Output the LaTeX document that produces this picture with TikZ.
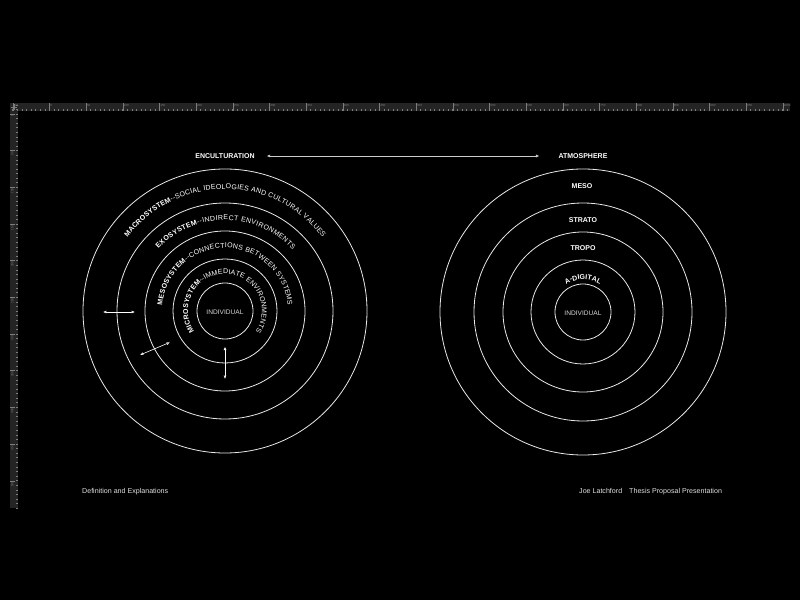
\documentclass[tikz,border=0pt]{standalone}
\usepackage{fontspec}
\setmainfont{Liberation Sans}
\usetikzlibrary{arrows.meta,decorations.text}
\definecolor{rulerbg}{RGB}{36,36,36}
\definecolor{rulertick}{RGB}{125,125,125}
\definecolor{ringline}{RGB}{232,232,232}
\newcommand\ringfont{\fontsize{7}{8}\selectfont}
\newcommand\layerfont{\fontsize{7}{8}\selectfont\bfseries}
\begin{document}
\begin{tikzpicture}[x=1pt,y=1pt,
  ringc/.style={draw=ringline, line width=0.8pt, circle, inner sep=0pt, minimum size=#1},
  title/.style={text=white, font=\fontsize{7}{8}\selectfont\bfseries, inner sep=0pt},
  layer/.style={text=white, font=\layerfont, inner sep=0pt},
  core/.style={text=white!85!black, font=\fontsize{6.6}{8}\selectfont, inner sep=0pt},
  foot/.style={text=white!88!black, font=\fontsize{7.1}{8}\selectfont, inner sep=0pt, anchor=west},
  tick label/.style={text=rulertick, font=\fontsize{3}{3}\selectfont, inner sep=0pt},
  dbl/.style={{Latex[length=3.4pt,width=3pt]}-{Latex[length=3.4pt,width=3pt]}, draw=white, line width=0.6pt},
  curved/.style={decorate, decoration={text along path, text color=white, text align={fit to path}, text={#1}}},
  centred curve/.style={decorate, decoration={text along path, text color=white, text align=center, text={#1}}},
]
\fill[black] (0,0) rectangle (800,600);
\useasboundingbox (0,0) rectangle (800,600);

% rulers
\fill[rulerbg] (10,489) rectangle (790,497);
\fill[rulerbg] (10,92) rectangle (18,497);
\foreach \i in {0,...,169} {
  \pgfmathsetmacro\xx{12.7+4.583*\i}
  \fill[rulertick] (\xx-0.25,489.4) rectangle (\xx+0.25,490.6);
}
\foreach \k in {0,...,21} {
  \pgfmathsetmacro\xx{12.7+36.67*\k}
  \pgfmathtruncatemacro\lab{-50+50*\k}
  \draw[rulertick, line width=0.4pt] (\xx,489) -- (\xx,497);
  \node[tick label, anchor=west] at (\xx+0.8,494.2) {\lab};
}
\foreach \i in {-2,...,86} {
  \pgfmathsetmacro\yy{486-4.583*\i}
  \fill[rulertick] (16.4,\yy-0.25) rectangle (17.6,\yy+0.25);
}
\foreach \k in {0,...,10} {
  \pgfmathsetmacro\yy{486-36.67*\k}
  \pgfmathtruncatemacro\lab{50*\k}
  \draw[rulertick, line width=0.4pt] (10,\yy) -- (15,\yy);
  \node[tick label, rotate=90, anchor=east] at (12.3,\yy-1) {\lab};
}
\draw[rulertick, line width=0.4pt] (11,493) -- (17,493) (14,490) -- (14,496);

% titles
\node[title] (enc) at (225,444) {ENCULTURATION};
\node[title] (atm) at (583,444) {ATMOSPHERE};
\draw[dbl, draw=white!80!black, line width=0.5pt, shorten <=12pt, shorten >=19pt] (enc.east) -- (atm.west);

% left rings
\coordinate (L) at (225,289);
\node[ringc=56pt]  (L1) at (L) {};
\node[ringc=104pt] (L2) at (L) {};
\node[ringc=160pt] (L3) at (L) {};
\node[ringc=216pt] (L4) at (L) {};
\node[ringc=284pt] (L5) at (L) {};
\node[core] (indL) at ([yshift=-1pt]L) {INDIVIDUAL};

\path[curved={|\layerfont|MACROSYSTEM|\ringfont|--SOCIAL IDEOLOGIES AND CULTURAL VALUES}]
  ([shift={(143:122)}]L) arc[start angle=143, end angle=37, radius=122];
\path[curved={|\layerfont|EXOSYSTEM|\ringfont|--INDIRECT ENVIRONMENTS}]
  ([shift={(137:91)}]L) arc[start angle=137, end angle=42, radius=91];
\path[curved={|\layerfont|MESOSYSTEM|\ringfont|--CONNECTIONS BETWEEN SYSTEMS}]
  ([shift={(175:63)}]L) arc[start angle=175, end angle=5, radius=63];
\path[curved={|\layerfont|MICROSYSTEM|\ringfont|--IMMEDIATE ENVIRONMENTS}]
  ([shift={(214:37)}]L) arc[start angle=214, end angle=-34, radius=37];

% interaction arrows
\coordinate (h1) at (103,288);
\coordinate (h2) at (135,288);
\coordinate (d1) at (140,245);
\coordinate (d2) at (170,257.7);
\coordinate (v1) at (225,253.3);
\coordinate (v2) at (225,221);
\draw[dbl] (h1) -- (h2);
\draw[dbl] (d1) -- (d2);
\draw[dbl] (v1) -- (v2);

% right rings
\coordinate (R) at (583,288);
\node[ringc=56pt]  (R1) at (R) {};
\node[ringc=104pt] (R2) at (R) {};
\node[ringc=160pt] (R3) at (R) {};
\node[ringc=218pt] (R4) at (R) {};
\node[ringc=286pt] (R5) at (R) {};
\node[core] (indR) at ([yshift=-1pt]R) {INDIVIDUAL};
\node[layer] (meso) at (582,414) {MESO};
\node[layer] (strato) at (583,380) {STRATO};
\node[layer] (tropo) at (583,352.3) {TROPO};
\path[centred curve={|\layerfont|A-DIGITAL}]
  ([shift={(150:32.5)}]R) arc[start angle=150, end angle=30, radius=32.5];

% footer
\node[foot] (defn) at (82,108) {Definition and Explanations};
\node[foot] (credit) at (579,108) {Joe Latchford\hspace{7pt}Thesis Proposal Presentation};
\end{tikzpicture}
\end{document}
